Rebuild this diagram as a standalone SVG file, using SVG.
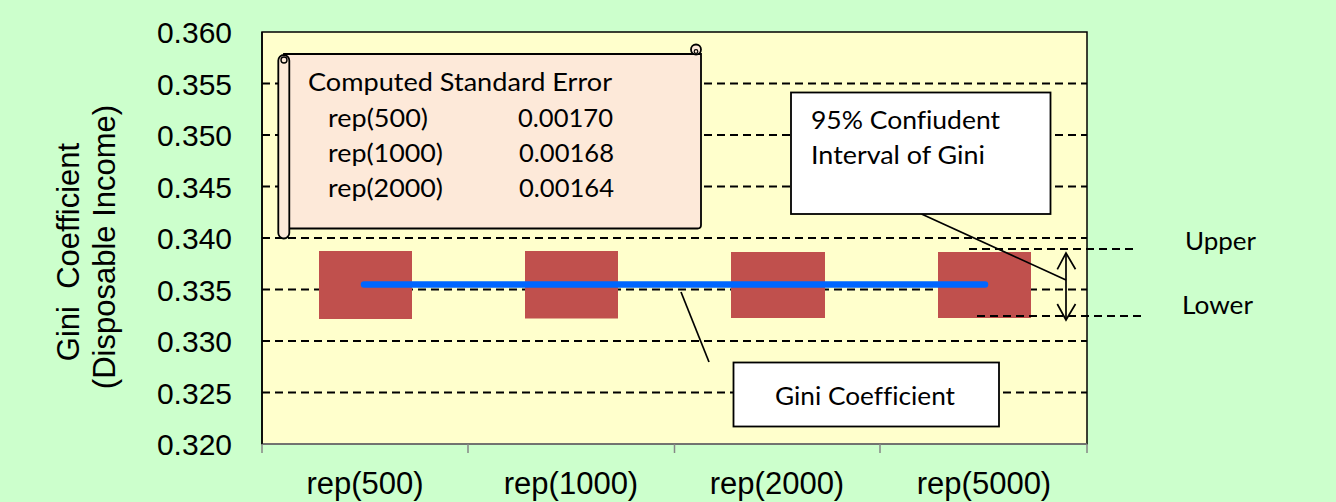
<svg xmlns="http://www.w3.org/2000/svg" width="1336" height="502" viewBox="0 0 1336 502">
<style>
.ax{font-family:"Liberation Sans",Arial,sans-serif;font-size:30px;fill:#000}
.xl{font-size:31px}
.cal{font-family:Lato,"Open Sans",sans-serif;font-size:25px;fill:#000;font-variant-ligatures:none}
.grid{stroke:#000;stroke-width:1.8;stroke-dasharray:8 5;fill:none}
.bar{fill:#C0504D}
.box{fill:#fff;stroke:#000;stroke-width:1.8}
.scroll{fill:#FDE9D9;stroke:#000;stroke-width:1.8}
.ln{stroke:#000;stroke-width:1.7;fill:none}
</style>
<rect x="0" y="0" width="1336" height="502" fill="#CCFFCC"/>
<g id="plot-area">
<rect x="262" y="32" width="825" height="412" fill="#FFFFCC" stroke="#000" stroke-width="1.5"/>
</g>
<g id="gridlines">
<line class="grid" x1="262" y1="83.5" x2="1087" y2="83.5"/>
<line class="grid" x1="262" y1="135" x2="1087" y2="135"/>
<line class="grid" x1="262" y1="186.5" x2="1087" y2="186.5"/>
<line class="grid" x1="262" y1="238" x2="1087" y2="238"/>
<line class="grid" x1="262" y1="289.5" x2="1087" y2="289.5"/>
<line class="grid" x1="262" y1="341" x2="1087" y2="341"/>
<line class="grid" x1="262" y1="392.5" x2="1087" y2="392.5"/>
</g>
<g id="x-axis">
<line x1="262" y1="444" x2="1087" y2="444" stroke="#868686" stroke-width="1.5"/>
<g stroke="#868686" stroke-width="1.5">
<line x1="262" y1="444" x2="262" y2="453"/>
<line x1="468" y1="444" x2="468" y2="453"/>
<line x1="674.5" y1="444" x2="674.5" y2="453"/>
<line x1="880" y1="444" x2="880" y2="453"/>
<line x1="1087" y1="444" x2="1087" y2="453"/>
</g>
<line x1="262" y1="32" x2="262" y2="444" stroke="#000" stroke-width="1.5"/>
<g class="ax xl" text-anchor="middle">
<text x="365" y="494">rep(500)</text>
<text x="571" y="494">rep(1000)</text>
<text x="777" y="494">rep(2000)</text>
<text x="984" y="494">rep(5000)</text>
</g>
</g>
<g id="y-axis" class="ax" text-anchor="end">
<text x="232" y="43">0.360</text>
<text x="232" y="94.5">0.355</text>
<text x="232" y="146">0.350</text>
<text x="232" y="197.5">0.345</text>
<text x="232" y="249">0.340</text>
<text x="232" y="300.5">0.335</text>
<text x="232" y="352">0.330</text>
<text x="232" y="403.5">0.325</text>
<text x="232" y="455">0.320</text>
</g>
<g id="y-title" class="ax" text-anchor="middle" style="font-size:31px">
<text transform="translate(79,252) rotate(-90)" xml:space="preserve">Gini  Coefficient</text>
<text transform="translate(115,247) rotate(-90)">(Disposable Income)</text>
</g>
<g id="bars">
<rect class="bar" x="319" y="251" width="93" height="68"/>
<rect class="bar" x="525" y="251" width="93" height="67.5"/>
<rect class="bar" x="731" y="252" width="94" height="66"/>
<rect class="bar" x="938" y="252" width="93" height="66"/>
</g>
<g id="gini-line">
<line x1="364" y1="284.5" x2="985" y2="284.5" stroke="#0066FF" stroke-width="6.5" stroke-linecap="round"/>
</g>
<g id="connectors">
<line class="grid" x1="969" y1="249" x2="1138" y2="249"/>
<line class="grid" x1="977" y1="316" x2="1146" y2="316"/>
<line class="ln" x1="1066" y1="254" x2="1066" y2="319"/>
<polyline class="ln" points="1057.3,269.3 1066,253 1075.5,269.3"/>
<polyline class="ln" points="1057.3,304 1066,320 1075.5,304"/>
<line class="ln" x1="921.5" y1="214" x2="1066" y2="280"/>
<line class="ln" x1="681" y1="292" x2="709" y2="362"/>
</g>
<g id="std-error-scroll">
<path class="scroll" d="M284,54 H701 V225 Q701,228.5 697.5,228.5 H284 Z"/>
<circle class="scroll" cx="696" cy="49.5" r="5"/>
<circle cx="696" cy="51.5" r="1.8" fill="none" stroke="#000" stroke-width="1.2"/>
<rect class="scroll" x="278.3" y="55" width="11" height="183.5" rx="5.5"/>
<circle cx="284" cy="60" r="3" fill="none" stroke="#000" stroke-width="1.4"/>
<text class="cal" x="308" y="91" textLength="304" lengthAdjust="spacingAndGlyphs">Computed Standard Error</text>
<text class="cal" x="328" y="127" textLength="100" lengthAdjust="spacingAndGlyphs">rep(500)</text>
<text class="cal" x="328" y="162" textLength="115" lengthAdjust="spacingAndGlyphs">rep(1000)</text>
<text class="cal" x="328" y="197" textLength="115" lengthAdjust="spacingAndGlyphs">rep(2000)</text>
<text class="cal" x="518" y="127" textLength="95" lengthAdjust="spacingAndGlyphs">0.00170</text>
<text class="cal" x="519" y="162" textLength="95" lengthAdjust="spacingAndGlyphs">0.00168</text>
<text class="cal" x="519" y="197" textLength="95" lengthAdjust="spacingAndGlyphs">0.00164</text>
</g>
<g id="ci-callout">
<rect class="box" x="791" y="92.5" width="259.5" height="121.5"/>
<text class="cal" x="811" y="129" textLength="189" lengthAdjust="spacingAndGlyphs">95% Confiudent</text>
<text class="cal" x="811" y="164" textLength="174" lengthAdjust="spacingAndGlyphs">Interval of Gini</text>
</g>
<g id="gini-callout">
<rect class="box" x="733.5" y="362.5" width="265.5" height="64"/>
<text class="cal" x="775" y="405" textLength="180" lengthAdjust="spacingAndGlyphs">Gini Coefficient</text>
</g>
<g id="upper-label">
<text class="cal" x="1185" y="250" textLength="71" lengthAdjust="spacingAndGlyphs">Upper</text>
</g>
<g id="lower-label">
<text class="cal" x="1182" y="314" textLength="71" lengthAdjust="spacingAndGlyphs">Lower</text>
</g>
</svg>
